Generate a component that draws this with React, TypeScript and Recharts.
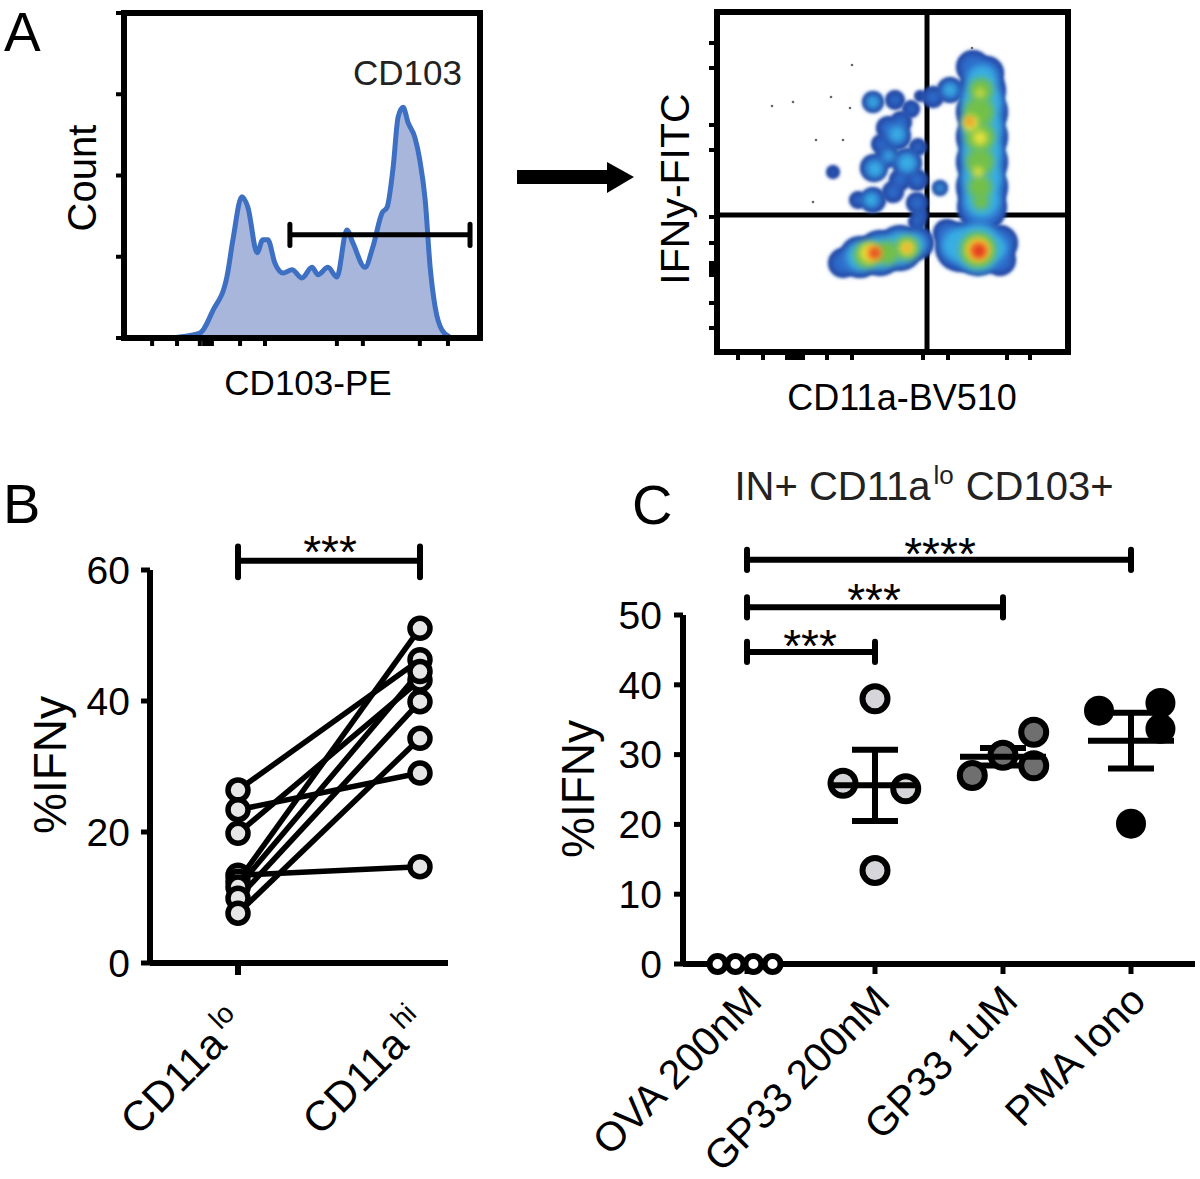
import React from 'react';
import {
  AreaChart, Area, ScatterChart, Scatter, ComposedChart, Line,
  XAxis, YAxis, ReferenceLine, ReferenceArea, ErrorBar,
} from 'recharts';

const FONT = '"Liberation Sans", Arial, Helvetica, sans-serif';
const W = 1200;
const H = 1179;
const AX = 60; // axis band size (y-axis width / x-axis height)

// ---------- Panel A: CD103 histogram ----------
const histPos = [14.9, 21.3, 25.0, 28.9, 30.6, 33.1, 34.8, 37.4, 39.0, 40.4, 42.4, 44.7, 47.2, 50.0, 52.8, 54.5, 57.3, 59.8, 62.6, 64.3, 67.7, 69.9, 72.5, 73.9, 75.6, 77.0, 78.4, 79.8, 81.7, 83.1, 84.6, 86.0, 87.4, 89.3, 91.6];
const histCount = [0.01, 0.06, 0.34, 0.75, 1.21, 1.74, 1.61, 1.05, 1.21, 1.21, 0.92, 0.80, 0.84, 0.74, 0.87, 0.78, 0.87, 0.75, 1.33, 1.17, 0.87, 1.12, 1.54, 1.61, 2.10, 2.72, 2.84, 2.65, 2.47, 2.19, 1.70, 0.87, 0.38, 0.10, 0.01];
const histXTicks = [7.9, 14.9, 21.3, 22.5, 23.6, 24.7, 32.6, 39.6, 59.8, 67.1, 83.1, 91.0];
const histYTicks = [0, 1, 2, 3, 4];
const gateRange = [46.6, 97.2];
const gateLevel = 1.27;
const gateCap = [1.14, 1.40];

// ---------- Panel A: IFNy vs CD11a density plot ----------
const densXTicks = [21, 46, 70, 74, 78, 82, 86, 110, 135, 206, 231, 290, 313];
const densYTicks = [309, 284, 227, 202, 135, 109, 89, 85, 81, 77, 49, 24];
const quadX = 210;
const quadY = 137;
// [x, y, spread]
const densOuter = [
  [156, 250, 11], [178, 252, 10],
  [203, 256, 6], [194, 243, 9], [184, 230, 11], [171, 224, 12], [180, 216, 14], [164, 208, 10], [157, 184, 14],
  [170, 196, 12], [190, 189, 15], [201, 205, 9], [200, 172, 11], [183, 172, 11], [156, 152, 13], [141, 152, 9],
  [176, 160, 11], [200, 149, 11], [116, 180, 7], [200, 130, 9], [203, 137, 8],
  [223, 164, 8],
  [216, 255, 11], [233, 262, 13],
  [256, 285, 17], [270, 279, 17], [265, 262, 24], [265, 240, 26], [265, 215, 26], [265, 190, 26], [265, 165, 26], [265, 145, 25],
  [126, 89, 15], [143, 95, 21], [163, 99, 23], [183, 104, 23], [200, 109, 17],
  [243, 105, 25], [261, 104, 28], [283, 109, 18], [283, 92, 16], [230, 119, 14],
];
const densCyan = [
  [156, 250, 6], [180, 218, 8], [158, 183, 8], [190, 189, 9], [154, 152, 7], [223, 164, 4], [233, 262, 7], [172, 196, 5],
  [265, 272, 15], [265, 250, 20], [265, 225, 20], [265, 200, 20], [265, 175, 20], [265, 152, 18],
  [143, 95, 14], [163, 99, 16], [183, 104, 16], [198, 108, 10],
  [241, 107, 16], [261, 104, 24], [280, 104, 10],
];
const densGreen = [
  [264, 262, 12], [262, 240, 15], [263, 215, 15], [263, 190, 14], [263, 165, 12], [264, 150, 8],
  [150, 97, 13], [170, 99, 12], [190, 104, 12],
  [261, 102, 18],
];
const densYellow = [
  [253, 229, 8], [263, 214, 7], [261, 180, 5], [263, 259, 4],
  [153, 99, 10], [190, 104, 7],
  [261, 102, 12],
];
const densOrange = [[157, 99, 7], [190, 104, 4], [261, 102, 9], [253, 230, 4]];
const densRed = [[158, 99, 5], [262, 101, 7], [252, 231, 2]];
const densEvents = [[55, 246], [76, 250], [114, 255], [135, 287], [133, 244], [99, 212], [126, 212], [96, 150], [255, 304]];

// ---------- Panel B ----------
const bXPos = [0, 1];
const bCats = ['CD11a', 'CD11a'];
const bSups = ['lo', 'hi'];
const bLo = [26.4, 23.4, 19.8, 13.4, 12.5, 11.6, 9.9, 7.6];
const bHi = [46.3, 29.0, 43.2, 14.7, 51.1, 44.5, 39.9, 34.3];
const bYTicks = [0, 20, 40, 60];
const bSig = { level: 61.4, cap: [58.9, 63.6] };

// ---------- Panel C ----------
const cCats = ['OVA 200nM', 'GP33 200nM', 'GP33 1uM', 'PMA Iono'];
const cXPos = [0.5, 1.5, 2.5, 3.5];
const cVals = [
  [0, 0, 0, 0],
  [38.0, 25.9, 25.1, 13.4],
  [27.0, 29.9, 33.2, 28.4],
  [36.3, 37.4, 33.7, 20.1],
];
const cJitter = [
  [-0.23, -0.09, 0.05, 0.2],
  [0, -0.25, 0.24, 0],
  [-0.24, 0, 0.24, 0.24],
  [-0.25, 0.23, 0.23, 0],
];
const cMean = [0, 25.6, 29.7, 32.0];
const cSem = [0, 5.1, 1.25, 4.0];
const cYTicks = [0, 10, 20, 30, 40, 50];
const cSigBars = [
  { from: 0, to: 1, level: 44.7 },
  { from: 0, to: 2, level: 51.1 },
  { from: 0, to: 3, level: 57.9 },
];

// ---------- styles ----------
const C_FILL = ['#ffffff', '#d5d5da', '#6f6f6f', '#000000'];
const C_R = [8, 12.5, 12.5, 15];
const D_NAVY = '#22409b';
const D_BLUE = '#2d6ccb';
const D_CYAN = '#38aee4';
const D_GREEN = '#72c04a';
const D_YELLOW = '#f2e43a';
const D_ORANGE = '#f49a2a';
const D_RED = '#e3301f';

const histData = histPos.map((x, i) => ({ x, count: histCount[i] }));
const toPts = (arr: number[][]) => arr.map(([x, y, r]) => ({ x, y, r: r ?? 1 }));
const bLineData = bXPos.map((x, k) => {
  const row: any = { x };
  bLo.forEach((v, i) => { row[`p${i}`] = k === 0 ? v : bHi[i]; });
  return row;
});
const bDotsLo = bLo.map((v) => ({ x: bXPos[0], v }));
const bDotsHi = bHi.map((v) => ({ x: bXPos[1], v }));
const cPoints = cVals.map((vals, i) => vals.map((y, k) => ({ x: cXPos[i] + cJitter[i][k], y })));
const cMeanData = cMean.map((y, i) => ({ x: cXPos[i], y, sem: cSem[i] }));

const NoLabel = () => <g />;
const tl = { stroke: '#000', strokeWidth: 4 };

const blob = (color: string, inset = 0, filter = 'url(#soft)') => (p: any) => {
  const r = Math.max((p.payload?.r ?? 0) - inset, 0);
  if (p.cx == null || r <= 0) return <g />;
  return <circle cx={p.cx} cy={p.cy} r={r} fill={color} filter={filter} />;
};

const BTick = (p: any) => {
  const i = bXPos.indexOf(p.payload.value);
  return (
    <g>
      {i === 0 && <line x1={p.x} y1={p.y} x2={p.x} y2={p.y + 12} stroke="#000" strokeWidth={6} />}
      <text transform={`translate(${p.x + 10},${p.y + 64}) rotate(-45)`} textAnchor="end" fontSize={42} fontFamily={FONT} fill="#000">
        {bCats[i]}
        <tspan fontSize={28} dx={6} dy={-17}>{bSups[i]}</tspan>
      </text>
    </g>
  );
};

const CTick = (p: any) => {
  const i = cXPos.indexOf(p.payload.value);
  return (
    <text transform={`translate(${p.x + 17},${p.y + 29}) rotate(-45)`} textAnchor="end" fontSize={41} fontFamily={FONT} fill="#000">
      {cCats[i]}
    </text>
  );
};

const layer: React.CSSProperties = { position: 'absolute', left: 0, top: 0 };

export default function App() {
  return (
    <div style={{ position: 'absolute', left: 0, top: 0, width: W, height: H, background: '#fff', overflow: 'hidden', fontFamily: FONT }}>
      {/* Histogram */}
      <div style={layer}>
        <AreaChart width={W} height={H} data={histData} margin={{ top: 13, left: 124 - AX, right: W - 480, bottom: H - 338 - AX }}>
          <XAxis type="number" dataKey="x" domain={[0, 100]} ticks={histXTicks} interval={0} height={AX} axisLine={false} tickLine={tl} tickSize={8} tick={NoLabel} />
          <YAxis type="number" domain={[0, 4]} ticks={histYTicks} interval={0} width={AX} axisLine={false} tickLine={tl} tickSize={8} tick={NoLabel} />
          <Area type="monotone" dataKey="count" stroke="#3d6fc3" strokeWidth={5} fill="#a8b6dc" fillOpacity={1} isAnimationActive={false} dot={false} activeDot={false} />
          <ReferenceArea x1={0} x2={100} y1={0} y2={4} fill="none" fillOpacity={0} stroke="#000" strokeWidth={6} ifOverflow="visible" />
          <ReferenceLine segment={[{ x: gateRange[0], y: gateLevel }, { x: gateRange[1], y: gateLevel }]} stroke="#000" strokeWidth={5} ifOverflow="visible" />
          <ReferenceLine segment={[{ x: gateRange[0], y: gateCap[0] }, { x: gateRange[0], y: gateCap[1] }]} stroke="#000" strokeWidth={5} strokeLinecap="round" ifOverflow="visible" />
          <ReferenceLine segment={[{ x: gateRange[1], y: gateCap[0] }, { x: gateRange[1], y: gateCap[1] }]} stroke="#000" strokeWidth={5} strokeLinecap="round" ifOverflow="visible" />
        </AreaChart>
      </div>

      {/* Density plot */}
      <div style={layer}>
        <ScatterChart width={W} height={H} margin={{ top: 12, left: 717 - AX, right: W - 1068, bottom: H - 352 - AX }}>
          <XAxis type="number" dataKey="x" domain={[0, 351]} ticks={densXTicks} interval={0} height={AX} axisLine={false} tickLine={tl} tickSize={8} tick={NoLabel} />
          <YAxis type="number" dataKey="y" domain={[0, 340]} ticks={densYTicks} interval={0} width={AX} axisLine={false} tickLine={tl} tickSize={8} tick={NoLabel} />
          <Scatter data={toPts(densOuter)} shape={blob(D_NAVY, 0, 'url(#soft1)')} isAnimationActive={false} />
          <Scatter data={toPts(densOuter)} shape={blob(D_BLUE, 3.5)} isAnimationActive={false} />
          <Scatter data={toPts(densCyan)} shape={blob(D_CYAN)} isAnimationActive={false} />
          <Scatter data={toPts(densGreen)} shape={blob(D_GREEN)} isAnimationActive={false} />
          <Scatter data={toPts(densYellow)} shape={blob(D_YELLOW)} isAnimationActive={false} />
          <Scatter data={toPts(densOrange)} shape={blob(D_ORANGE)} isAnimationActive={false} />
          <Scatter data={toPts(densRed)} shape={blob(D_RED)} isAnimationActive={false} />
          <Scatter data={densEvents.map(([x, y]) => ({ x, y }))} shape={(p: any) => <circle cx={p.cx} cy={p.cy} r={1.3} fill="#666" />} isAnimationActive={false} />
          <ReferenceLine x={quadX} stroke="#000" strokeWidth={5} />
          <ReferenceLine y={quadY} stroke="#000" strokeWidth={5} />
          <ReferenceArea x1={0} x2={351} y1={0} y2={340} fill="none" fillOpacity={0} stroke="#000" strokeWidth={6} ifOverflow="visible" />
        </ScatterChart>
      </div>

      {/* Panel B */}
      <div style={layer}>
        <ComposedChart width={W} height={H} data={bLineData} margin={{ top: 570, left: 150 - AX, right: W - 448, bottom: H - 963 - AX }}>
          <XAxis type="number" dataKey="x" domain={[-0.4836, 1.1539]} ticks={bXPos} interval={0} height={AX} axisLine={{ stroke: '#000', strokeWidth: 6 }} tickLine={false} tickSize={0} tickMargin={0} tick={BTick} />
          <YAxis type="number" domain={[0, 60]} ticks={bYTicks} interval={0} width={AX} axisLine={{ stroke: '#000', strokeWidth: 6 }} tickLine={{ stroke: '#000', strokeWidth: 5 }} tickSize={9} tickMargin={11} tick={{ fontSize: 39, fill: '#000', fontFamily: FONT }} />
          {bLo.map((_, i) => (
            <Line key={i} type="linear" dataKey={`p${i}`} stroke="#000" strokeWidth={5.5} dot={false} activeDot={false} isAnimationActive={false} />
          ))}
          <Scatter data={bDotsLo} dataKey="v" shape={(p: any) => <circle cx={p.cx} cy={p.cy} r={10} fill="#e6e6e6" stroke="#000" strokeWidth={5.5} />} isAnimationActive={false} />
          <Scatter data={bDotsHi} dataKey="v" shape={(p: any) => <circle cx={p.cx} cy={p.cy} r={10} fill="#e6e6e6" stroke="#000" strokeWidth={5.5} />} isAnimationActive={false} />
          <ReferenceLine segment={[{ x: bXPos[0], y: bSig.level }, { x: bXPos[1], y: bSig.level }]} stroke="#000" strokeWidth={6} ifOverflow="visible" />
          <ReferenceLine segment={[{ x: bXPos[0], y: bSig.cap[0] }, { x: bXPos[0], y: bSig.cap[1] }]} stroke="#000" strokeWidth={6} strokeLinecap="round" ifOverflow="visible" />
          <ReferenceLine segment={[{ x: bXPos[1], y: bSig.cap[0] }, { x: bXPos[1], y: bSig.cap[1] }]} stroke="#000" strokeWidth={6} strokeLinecap="round" ifOverflow="visible" />
        </ComposedChart>
      </div>

      {/* Panel C */}
      <div style={layer}>
        <ScatterChart width={W} height={H} margin={{ top: 615, left: 683 - AX, right: W - 1195, bottom: H - 964 - AX }}>
          <XAxis type="number" dataKey="x" domain={[0, 4]} ticks={cXPos} interval={0} height={AX} axisLine={{ stroke: '#000', strokeWidth: 6 }} tickLine={{ stroke: '#000', strokeWidth: 5 }} tickSize={10} tickMargin={0} tick={CTick} />
          <YAxis type="number" dataKey="y" domain={[0, 50]} ticks={cYTicks} interval={0} width={AX} axisLine={{ stroke: '#000', strokeWidth: 6 }} tickLine={{ stroke: '#000', strokeWidth: 5 }} tickSize={9} tickMargin={12} tick={{ fontSize: 39, fill: '#000', fontFamily: FONT }} />
          {cPoints.map((pts, i) => (
            <Scatter key={i} data={pts} isAnimationActive={false}
              shape={(p: any) => <circle cx={p.cx} cy={p.cy} r={C_R[i]} fill={C_FILL[i]} stroke="#000" strokeWidth={i === 3 ? 0 : 6} />} />
          ))}
          <Scatter data={cMeanData} isAnimationActive={false}
            shape={(p: any) => (p.payload.sem > 0
              ? <line x1={p.cx - 43} x2={p.cx + 43} y1={p.cy} y2={p.cy} stroke="#000" strokeWidth={6} />
              : <g />)}>
            <ErrorBar dataKey="sem" direction="y" width={23} stroke="#000" strokeWidth={6} />
          </Scatter>
          {cSigBars.map((b, i) => (
            <React.Fragment key={i}>
              <ReferenceLine segment={[{ x: cXPos[b.from], y: b.level }, { x: cXPos[b.to], y: b.level }]} stroke="#000" strokeWidth={6} ifOverflow="visible" />
              <ReferenceLine segment={[{ x: cXPos[b.from], y: b.level - 1.45 }, { x: cXPos[b.from], y: b.level + 1.45 }]} stroke="#000" strokeWidth={6} strokeLinecap="round" ifOverflow="visible" />
              <ReferenceLine segment={[{ x: cXPos[b.to], y: b.level - 1.45 }, { x: cXPos[b.to], y: b.level + 1.45 }]} stroke="#000" strokeWidth={6} strokeLinecap="round" ifOverflow="visible" />
            </React.Fragment>
          ))}
        </ScatterChart>
      </div>

      {/* Annotations */}
      <svg style={{ position: 'absolute', left: 0, top: 0, pointerEvents: 'none' }} width={W} height={H} fontFamily={FONT}>
        <defs>
          <filter id="soft" x="-80%" y="-80%" width="260%" height="260%"><feGaussianBlur stdDeviation="3.6" /></filter>
          <filter id="soft1" x="-60%" y="-60%" width="220%" height="220%"><feGaussianBlur stdDeviation="1.6" /></filter>
        </defs>
        <text x={4} y={51} fontSize={55} fill="#000">A</text>
        <text x={3} y={523} fontSize={56} fill="#000">B</text>
        <text x={632} y={524} fontSize={56} fill="#000">C</text>

        <text transform="translate(96,178) rotate(-90)" textAnchor="middle" fontSize={40} fill="#000">Count</text>
        <text x={308} y={395} textAnchor="middle" fontSize={35} fill="#000">CD103-PE</text>
        <text x={462} y={85} textAnchor="end" fontSize={35} fill="#222">CD103</text>

        <polygon points="517,170 607,170 607,162 634,177 607,193 607,184 517,184" fill="#000" />

        <text transform="translate(689,189) rotate(-90)" textAnchor="middle" fontSize={41} fill="#000">IFNy-FITC</text>
        <text x={902} y={410} textAnchor="middle" fontSize={36} fill="#000">CD11a-BV510</text>

        <text transform="translate(66,765) rotate(-90)" textAnchor="middle" fontSize={46} fill="#000">%IFNy</text>
        <text x={330} y={568} textAnchor="middle" fontSize={46} fill="#000">***</text>

        <text x={924} y={500} textAnchor="middle" fontSize={40} fill="#222">
          IN+ CD11a<tspan fontSize={26} dx={3} dy={-16}>lo</tspan><tspan dx={12} dy={16}>CD103+</tspan>
        </text>
        <text transform="translate(594,789) rotate(-90)" textAnchor="middle" fontSize={46} fill="#000">%IFNy</text>
        <text x={940} y={570} textAnchor="middle" fontSize={46} fill="#000">****</text>
        <text x={874} y={616} textAnchor="middle" fontSize={46} fill="#000">***</text>
        <text x={810} y={662} textAnchor="middle" fontSize={46} fill="#000">***</text>
      </svg>
    </div>
  );
}
